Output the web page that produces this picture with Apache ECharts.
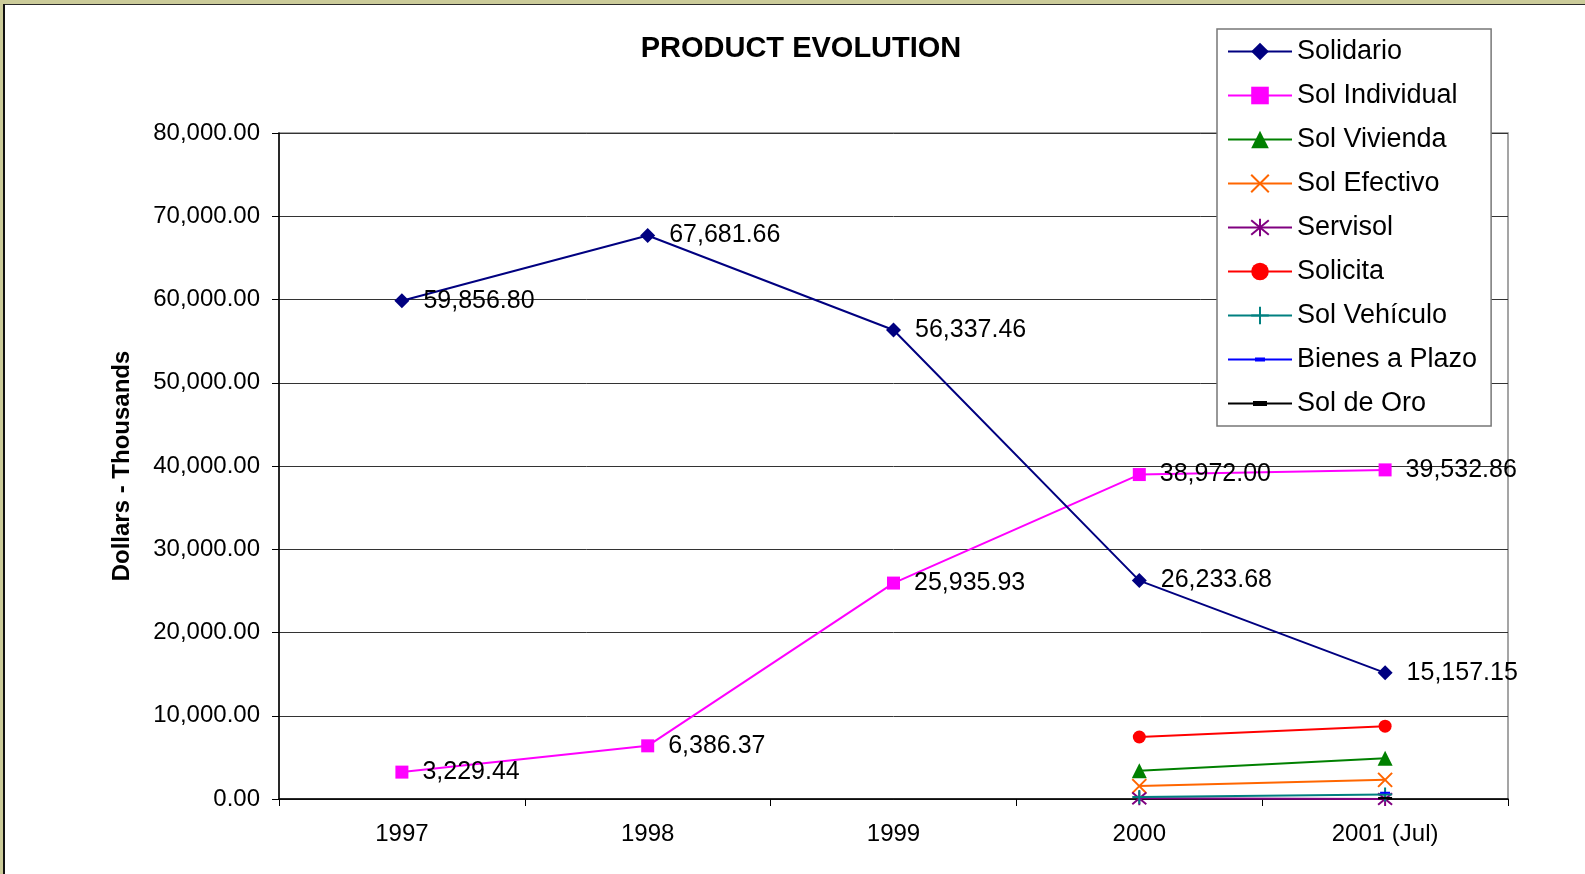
<!DOCTYPE html>
<html>
<head>
<meta charset="utf-8">
<script src="https://cdn.jsdelivr.net/npm/echarts@6/dist/echarts.min.js"></script>
<style>
  html, body { margin: 0; padding: 0; background: #ffffff; }
  #chart { position: absolute; left: 0; top: 0; width: 1585px; height: 874px; }
  .fr { position: absolute; pointer-events: none; }
</style>
</head>
<body>
<div id="chart"></div>
<div class="fr" style="left:0;top:0;width:1585px;height:4px;background:#cbcb99;"></div>
<div class="fr" style="left:0;top:0;width:3px;height:874px;background:#cbcb99;"></div>
<div class="fr" style="left:3px;top:4px;width:1582px;height:1px;background:#2a2a2a;"></div>
<div class="fr" style="left:3px;top:4px;width:2px;height:870px;background:#111111;"></div>
<script>
const categories = ['1997', '1998', '1999', '2000', '2001 (Jul)'];
const seriesNames = ['Solidario', 'Sol Individual', 'Sol Vivienda', 'Sol Efectivo', 'Servisol', 'Solicita', 'Sol Vehículo', 'Bienes a Plazo', 'Sol de Oro'];
const solidario = [59856.80, 67681.66, 56337.46, 26233.68, 15157.15];
const solIndividual = [3229.44, 6386.37, 25935.93, 38972.00, 39532.86];
const solVivienda = [null, null, null, 3400, 4900];
const solEfectivo = [null, null, null, 1550, 2300];
const servisol = [null, null, null, 80, 0];
const solicita = [null, null, null, 7450, 8750];
const solVehiculo = [null, null, null, 250, 550];
const bienesPlazo = [null, null, null, null, 750];
const solDeOro = [null, null, null, null, 100];
const yTicks = [0, 10000, 20000, 30000, 40000, 50000, 60000, 70000, 80000];

const fmt = v => Number(v).toLocaleString('en-US', { minimumFractionDigits: 2, maximumFractionDigits: 2 });
const FONT = '"Liberation Sans", Arial, sans-serif';

function mk(name, data, color, symbol, size, extra) {
  const s = {
    name: name,
    type: 'line',
    data: data,
    connectNulls: false,
    symbol: symbol,
    symbolSize: size,
    showAllSymbol: true,
    lineStyle: { color: color, width: 2 },
    itemStyle: { color: color, borderColor: color, borderWidth: 0 },
    emphasis: { disabled: true },
    animation: false,
    z: 3
  };
  return Object.assign(s, extra || {});
}

const labelCfg = {
  show: true,
  position: 'right',
  distance: 14,
  color: '#000',
  fontSize: 25,
  fontFamily: FONT,
  formatter: p => fmt(p.value)
};

const legendData = seriesNames.map(n => {
  if (n === 'Bienes a Plazo') return { name: n, icon: 'path://M0,8h64v2h-64zM27,7h10v4h-10z', itemStyle: { color: '#0000ff' } };
  if (n === 'Sol de Oro') return { name: n, icon: 'path://M0,8h64v2h-64zM25,6.5h14v5h-14z', itemStyle: { color: '#000000' } };
  return { name: n };
});

const chart = echarts.init(document.getElementById('chart'), null, { renderer: 'canvas' });
chart.setOption({
  backgroundColor: '#ffffff',
  animation: false,
  title: {
    text: 'PRODUCT EVOLUTION',
    left: 796,
    textAlign: 'center',
    top: 29,
    textStyle: { fontSize: 29, fontWeight: 'bold', color: '#000', fontFamily: FONT }
  },
  grid: {
    left: 279, right: 77, top: 133, bottom: 75,
    show: true, borderColor: '#888', borderWidth: 1.5, backgroundColor: 'transparent'
  },
  legend: {
    orient: 'vertical',
    left: 1217, top: 29,
    padding: [9, 14, 9, 10],
    itemWidth: 64, itemHeight: 22, itemGap: 17,
    backgroundColor: '#fff',
    borderColor: '#777', borderWidth: 1.5,
    textStyle: { fontSize: 27, color: '#000', fontFamily: FONT },
    data: legendData
  },
  xAxis: {
    type: 'category',
    data: categories,
    boundaryGap: true,
    axisLine: { show: true, lineStyle: { color: '#000', width: 1.5 } },
    axisTick: { show: true, length: 7, lineStyle: { color: '#000' } },
    axisLabel: { color: '#000', fontSize: 24, fontFamily: FONT, margin: 23 },
    splitLine: { show: false }
  },
  yAxis: {
    type: 'value',
    min: yTicks[0], max: yTicks[yTicks.length - 1], interval: 10000,
    name: 'Dollars - Thousands',
    nameLocation: 'middle',
    nameGap: 145,
    nameTextStyle: { fontSize: 24, fontWeight: 'bold', color: '#000', fontFamily: FONT },
    axisLine: { show: true, lineStyle: { color: '#000', width: 1.5 } },
    axisTick: { show: true, length: 7, lineStyle: { color: '#000' } },
    axisLabel: { color: '#000', fontSize: 24, fontFamily: FONT, margin: 19, formatter: v => fmt(v) },
    splitLine: { show: true, lineStyle: { color: '#333', width: 1 } }
  },
  series: [
    mk('Solidario', solidario, '#000080', 'diamond', 15, { label: labelCfg, z: 5 }),
    mk('Sol Individual', solIndividual, '#ff00ff', 'rect', 13, { label: labelCfg, z: 4 }),
    mk('Sol Vivienda', solVivienda, '#008000', 'triangle', 15),
    mk('Sol Efectivo', solEfectivo, '#ff6600', 'path://M0,0L10,10M10,0L0,10', 14,
       { itemStyle: { color: 'none', borderColor: '#ff6600', borderWidth: 2 } }),
    mk('Servisol', servisol, '#800080', 'path://M0,0L10,10M10,0L0,10M5,-1L5,11', 14,
       { itemStyle: { color: 'none', borderColor: '#800080', borderWidth: 2 } }),
    mk('Solicita', solicita, '#ff0000', 'circle', 13),
    mk('Sol Vehículo', solVehiculo, '#008080', 'path://M5,0L5,10M0,5L10,5', 14,
       { itemStyle: { color: 'none', borderColor: '#008080', borderWidth: 2 } }),
    mk('Bienes a Plazo', bienesPlazo, '#0000ff', 'path://M0,0h10v4h-10z', [10, 5], { symbolKeepAspect: true }),
    mk('Sol de Oro', solDeOro, '#000000', 'path://M0,0h10v4h-10z', [14, 6], { symbolKeepAspect: true })
  ]
});
</script>
</body>
</html>
